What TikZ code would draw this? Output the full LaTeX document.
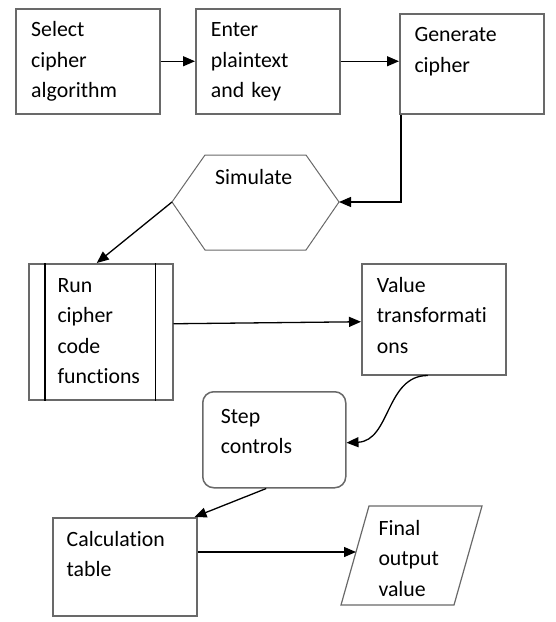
\documentclass[tikz,border=0pt]{standalone}
\usepackage{fontspec}
\setmainfont[Ligatures=NoCommon]{Carlito}
\usetikzlibrary{arrows.meta,calc}
\definecolor{boxgray}{RGB}{105,105,105}
\tikzset{
  box/.style={draw=boxgray, line width=1.5pt, rectangle, inner sep=0pt, anchor=north west},
  lbl/.style={anchor=base west, inner sep=0pt, text width=150pt, align=left,
              font=\fontsize{21.8}{30.5}\selectfont},
  arr/.style={line width=1.3pt, black, -{Triangle[length=12pt,width=10pt]}},
  thin/.style={draw=boxgray, line width=1pt}
}
\begin{document}
\begin{tikzpicture}[x=1pt,y=-1pt]
\useasboundingbox (0,0) rectangle (555,622);
% boxes
\node[box, minimum width=144pt, minimum height=105pt] (sel) at (15,8) {};
\node[box, minimum width=144pt, minimum height=105pt] (ent) at (195,8) {};
\node[box, minimum width=144pt, minimum height=100pt] (gen) at (399,13) {};
\node[box, minimum width=144pt, minimum height=136pt] (run) at (28,263) {};
\node[box, minimum width=144pt, minimum height=111pt] (val) at (361,263) {};
\node[box, rounded corners=11pt, minimum width=143pt, minimum height=96pt] (stp) at (202,391) {};
\node[box, minimum width=144pt, minimum height=98pt] (calc) at (52,517) {};
% run inner lines
\draw[line width=1.2pt, black] ($(run.north west)+(17,0)$) -- ($(run.south west)+(17,0)$);
\draw[line width=1.2pt, black] ($(run.north east)+(-18,0)$) -- ($(run.south east)+(-18,0)$);
% hexagon
\coordinate (simL) at (172,202);
\coordinate (simR) at (339,202);
\draw[thin] (simL) -- (205,155) -- (306,155) -- (simR) -- (306,250) -- (205,250) -- cycle;
% parallelogram
\coordinate (finL) at (356,552);
\draw[draw=boxgray, line width=1.2pt] (369,506) -- (482,506) -- (454,605) -- (341,605) -- cycle;
% labels
\node[lbl] (tsel) at (31,36.7) {Select\\cipher\\algorithm};
\node[lbl] (tent) at (210.7,36.7) {Enter\\plaintext\\and key};
\node[lbl] (tgen) at (414.3,41.7) {Generate\\cipher};
\node[lbl] (tsim) at (215,184) {Simulate};
\node[lbl] (trun) at (57.3,292.3) {Run\\cipher\\code\\functions};
\node[lbl] (tval) at (376.7,292.3) {Value\\transformati\\ons};
\node[lbl] (tstp) at (220.7,423.3) {Step\\controls};
\node[lbl] (tcalc) at (66.5,546) {Calculation\\table};
\node[lbl] (tfin) at (378.3,535) {Final\\output\\value};
% connectors
\draw[arr] (sel.east) -- (ent.west);
\draw[arr] (ent.east) -- (ent.east -| gen.west);
\draw[arr] ([xshift=2pt]gen.south west) |- (simR);
\draw[arr] (simL) -- ([xshift=-4pt]run.north);
\draw[arr] ([yshift=8pt]run.east) -- ([yshift=-2.5pt]val.west);
\draw[arr] ([xshift=-6pt]val.south) .. controls +(-42,0) and +(44,-2) .. ([yshift=-3pt]stp.east);
\draw[arr] ([xshift=-8pt]stp.south) -- ([xshift=-3pt]calc.north east);
\draw[arr] (calc.east |- finL) -- (finL);
\end{tikzpicture}
\end{document}
